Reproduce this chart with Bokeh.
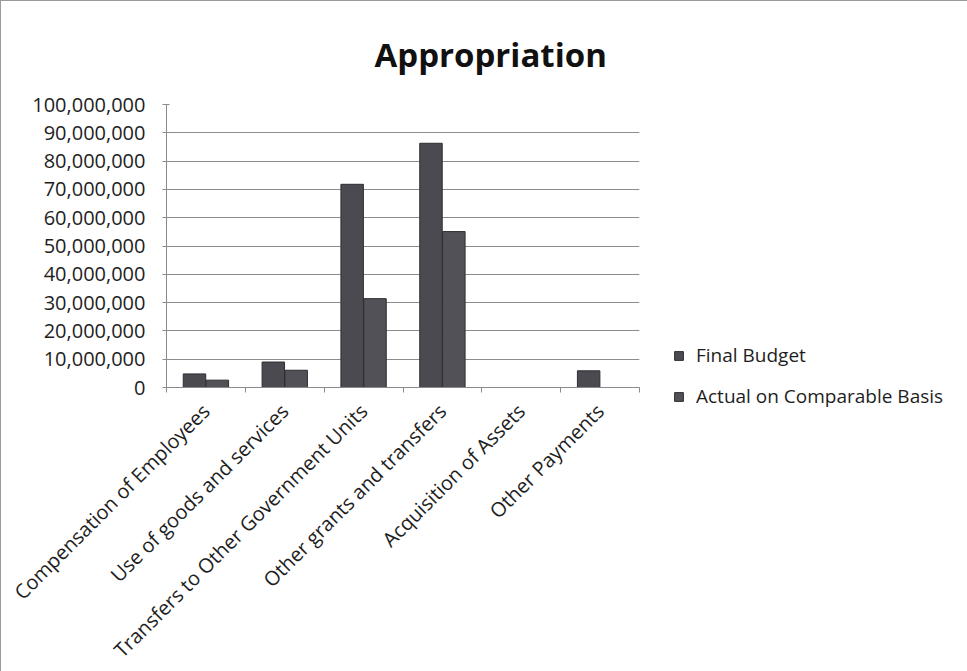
import numpy as np
from bokeh.plotting import figure
from bokeh.models import (ColumnDataSource, FixedTicker, NumeralTickFormatter,
                          Legend, LegendItem, Title, Range1d)
from bokeh.embed import file_html
from bokeh.resources import INLINE

categories = ["Compensation of Employees", "Use of goods and services",
              "Transfers to Other Government Units", "Other grants and transfers",
              "Acquisition of Assets", "Other Payments"]
final_budget = [4.8e6, 9.0e6, 71.8e6, 86.3e6, 0, 5.9e6]
actual = [2.6e6, 6.1e6, 31.4e6, 55.1e6, 0, 0]
y_ticks = [i * 10_000_000 for i in range(11)]

FONT = "Open Sans"
TXT = "#1e1e1e"

pos = np.arange(len(categories)) + 0.5
src = ColumnDataSource(dict(x_fb=pos - 0.145, x_ac=pos + 0.145,
                            fb=final_budget, ac=actual))

p = figure(frame_width=473, frame_height=283, output_backend="svg", toolbar_location=None,
           x_range=Range1d(0, len(categories)), y_range=Range1d(0, 100_000_000),
           min_border_left=165, min_border_right=0, min_border_top=103,
           min_border_bottom=269, title=None)
p.styles = {"border": "1px solid #9a9a9a"}
p.outline_line_color = None
p.background_fill_color = "white"

r1 = p.vbar(x="x_fb", top="fb", width=0.285, source=src,
            fill_color="#4a4a50", line_color="#2e2e32", line_width=1)
r2 = p.vbar(x="x_ac", top="ac", width=0.285, source=src,
            fill_color="#515157", line_color="#2e2e32", line_width=1)

# y axis
p.yaxis.ticker = FixedTicker(ticks=y_ticks)
p.yaxis.formatter = NumeralTickFormatter(format="0,0")
p.yaxis.major_label_text_font = FONT
p.yaxis.major_label_text_font_size = "20px"
p.yaxis.major_label_text_color = TXT
p.yaxis.axis_line_color = "#8a8a8a"
p.yaxis.major_tick_line_color = "#8a8a8a"
p.yaxis.major_tick_in = 3
p.yaxis.major_tick_out = 4
p.yaxis.minor_tick_line_color = None
p.yaxis.major_label_standoff = 17

# x axis: labels at centers, ticks at boundaries
p.xaxis.ticker = FixedTicker(ticks=list(pos), minor_ticks=list(range(len(categories) + 1)))
p.xaxis.major_label_overrides = {float(x): c for x, c in zip(pos, categories)}
p.xaxis.major_label_orientation = np.pi / 4
p.xaxis.major_label_text_font = FONT
p.xaxis.major_label_text_font_size = "20px"
p.xaxis.major_label_text_color = TXT
p.xaxis.major_tick_line_color = None
p.xaxis.major_tick_in = 0
p.xaxis.major_tick_out = 0
p.xaxis.minor_tick_line_color = "#8a8a8a"
p.xaxis.minor_tick_in = 0
p.xaxis.minor_tick_out = 5
p.xaxis.axis_line_color = "#8a8a8a"
p.xaxis.major_label_standoff = 15

p.xgrid.grid_line_color = None
p.ygrid.ticker = FixedTicker(ticks=y_ticks)
p.ygrid.grid_line_color = "#8c8c8c"
p.ygrid.grid_line_width = 1

title = Title(text="Appropriation", align="left", offset=208, standoff=52,
              vertical_align="top",
              text_font=FONT, text_font_size="33px", text_font_style="bold",
              text_color="#111111")
p.add_layout(title, "above")

legend = Legend(items=[LegendItem(label="Final Budget", renderers=[r1]),
                       LegendItem(label="Actual on Comparable Basis", renderers=[r2])],
                location=(34, -22), orientation="vertical",
                glyph_width=11, glyph_height=11, label_standoff=12, spacing=15,
                padding=0, margin=0, border_line_color=None,
                background_fill_alpha=0,
                label_text_font=FONT, label_text_font_size="19px",
                label_text_color=TXT)
p.add_layout(legend, "right")

open("out.html", "w").write(file_html(p, INLINE))
